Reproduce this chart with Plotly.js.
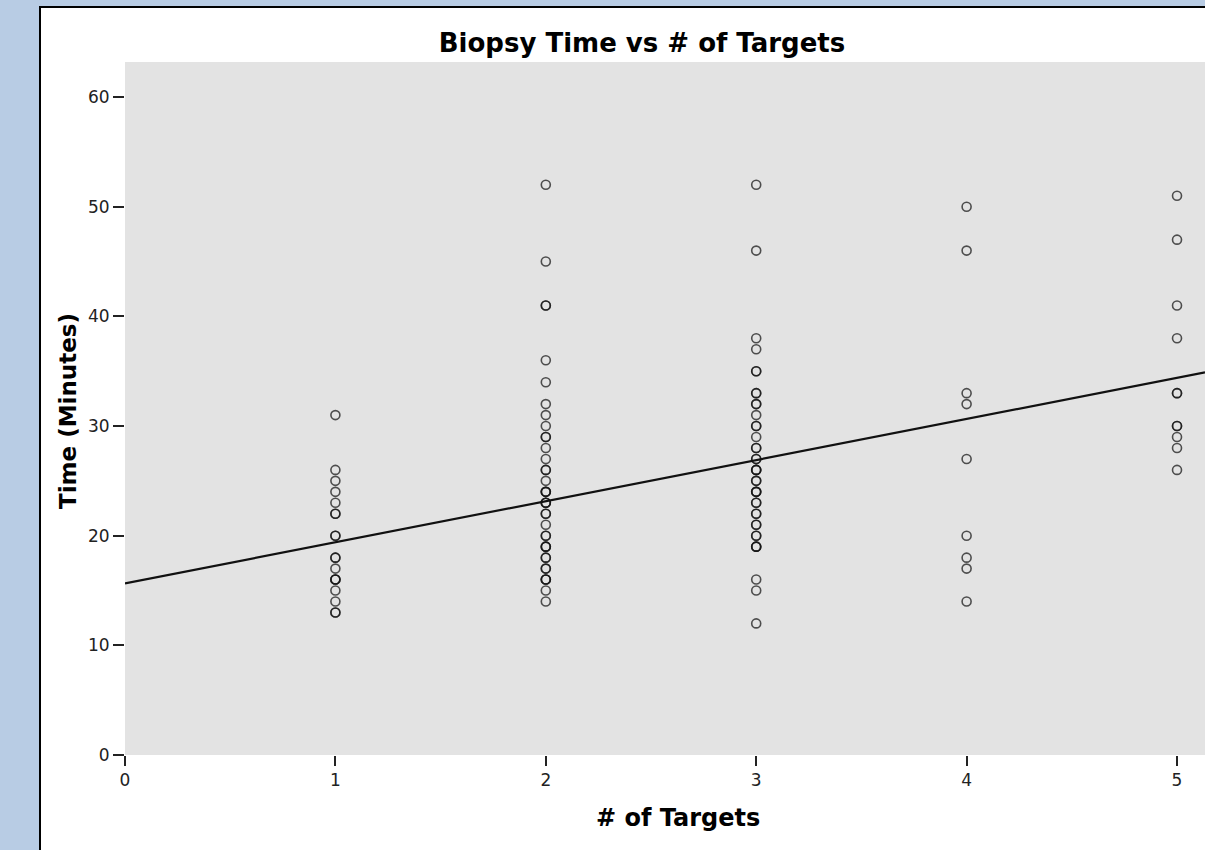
<!DOCTYPE html>
<html>
<head>
<meta charset="utf-8">
<script src="https://cdn.plot.ly/plotly-3.0.1.min.js"></script>
<style>
  html, body { margin: 0; padding: 0; width: 1205px; height: 850px; overflow: hidden; background: #b8cce4; }
  #panel { position: absolute; left: 39px; top: 6px; width: 1400px; height: 1000px; background: #ffffff; border-left: 2px solid #000; border-top: 2px solid #000; }
  #chart { position: absolute; left: 0; top: 0; width: 1205px; height: 850px; }
</style>
</head>
<body>
<div id="panel"></div>
<div id="chart"></div>
<script>
// Data
const targets = [1, 2, 3, 4, 5];
const times1 = [31, 26, 25, 24, 23, 22, 22, 20, 20, 18, 18, 17, 16, 16, 16, 15, 14, 13, 13];
const times2 = [52, 45, 41, 41, 36, 34, 32, 31, 30, 29, 29, 28, 27, 26, 26, 25, 24, 24, 24, 23, 23, 23, 22, 22, 21, 20, 20, 19, 19, 19, 18, 18, 17, 17, 16, 16, 16, 15, 14];
const times3 = [52, 46, 38, 37, 35, 35, 33, 33, 32, 32, 31, 30, 30, 29, 28, 28, 27, 27, 26, 26, 26, 25, 25, 24, 24, 24, 23, 23, 22, 22, 21, 21, 20, 20, 19, 19, 19, 16, 15, 12];
const times4 = [50, 46, 33, 32, 27, 20, 18, 17, 14];
const times5 = [51, 47, 41, 38, 33, 33, 30, 30, 29, 28, 26];
const fitIntercept = 15.65;
const fitSlope = 3.75;
const xTickVals = [0, 1, 2, 3, 4, 5];
const yTickVals = [0, 10, 20, 30, 40, 50, 60];

const groups = [times1, times2, times3, times4, times5];
const px = [], py = [];
groups.forEach((g, i) => g.forEach(v => { px.push(targets[i]); py.push(v); }));

const xMax = 5.133;
const fitX = [0, xMax];
const fitY = fitX.map(x => fitIntercept + fitSlope * x);

const tickFont = { family: 'DejaVu Sans', size: 17, color: '#222' };

const data = [
  {
    type: 'scatter', mode: 'markers', x: px, y: py, showlegend: false,
    marker: { symbol: 'circle-open', size: 9, color: 'rgba(20,20,20,0.72)', line: { width: 1.6, color: 'rgba(20,20,20,0.72)' } },
    hoverinfo: 'x+y'
  },
  {
    type: 'scatter', mode: 'lines', x: fitX, y: fitY, showlegend: false,
    line: { color: '#111', width: 2.2 }, hoverinfo: 'skip'
  }
];

const layout = {
  width: 1205, height: 850,
  margin: { l: 125, r: 0, t: 62, b: 95, pad: 0 },
  paper_bgcolor: 'rgba(0,0,0,0)',
  plot_bgcolor: '#e3e3e3',
  title: {
    text: 'Biopsy Time vs # of Targets',
    font: { family: 'DejaVu Sans', size: 26, color: '#000', weight: 'bold' },
    xref: 'container', yref: 'container', x: 642 / 1205, xanchor: 'center', y: 1 - 43 / 850, yanchor: 'middle'
  },
  xaxis: {
    range: [0, xMax], tickvals: xTickVals, ticktext: xTickVals.map(String),
    ticks: 'outside', ticklen: 10, tickwidth: 2, tickcolor: '#222',
    showgrid: false, zeroline: false, showline: false,
    tickfont: tickFont, fixedrange: true
  },
  yaxis: {
    range: [0, 63.2], tickvals: yTickVals, ticktext: yTickVals.map(String),
    ticks: 'outside', ticklen: 11, tickwidth: 2, tickcolor: '#222',
    showgrid: false, zeroline: false, showline: false,
    tickfont: tickFont, fixedrange: true
  },
  annotations: [
    {
      text: '# of Targets', xref: 'paper', yref: 'paper',
      x: (678 - 125) / 1080, y: -(818 - 755) / 693, xanchor: 'center', yanchor: 'middle', showarrow: false,
      font: { family: 'DejaVu Sans', size: 24, color: '#000', weight: 'bold' }
    },
    {
      text: 'Time (Minutes)', xref: 'paper', yref: 'paper', textangle: -90,
      x: (68 - 125) / 1080, y: (755 - 411) / 693, xanchor: 'center', yanchor: 'middle', showarrow: false,
      font: { family: 'DejaVu Sans', size: 23, color: '#000', weight: 'bold' }
    }
  ]
};

Plotly.newPlot('chart', data, layout, { displayModeBar: false, staticPlot: true });
</script>
</body>
</html>
